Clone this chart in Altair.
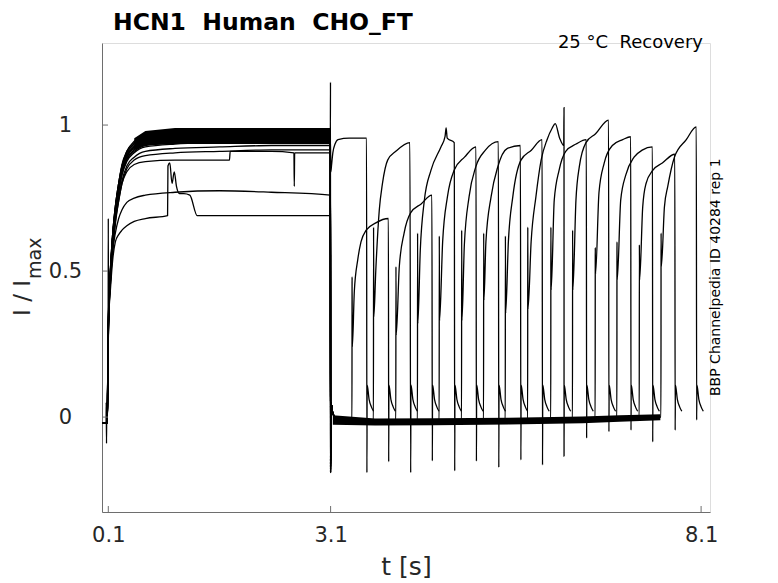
import altair as alt
import pandas as pd

W, H = 608, 469

# ---------------- axes ----------------
tick_x = [0.1, 3.1, 8.1]
tick_y = [0, 0.5, 1]
x_domain = [0.015, 8.22]
y_domain = [-0.325, 1.281]

# ---------------- prepulse (0.1 s .. 3.1 s) ----------------
pre_t = [0.015, 0.086, 0.092, 0.1, 0.11, 0.127, 0.16, 0.195, 0.24, 0.285,
         0.35, 0.45, 0.6, 1.0, 1.6, 2.3, 3.097]
pre_v = {
    0:  [-0.02, -0.02, 0.12, 0.30, 0.40, 0.48, 0.61, 0.70, 0.78, 0.84, 0.885, 0.915, 0.935, 0.945, 0.950, 0.955, 0.955],
    2:  [-0.02, -0.02, 0.12, 0.29, 0.39, 0.47, 0.60, 0.69, 0.77, 0.83, 0.880, 0.910, 0.930, 0.940, 0.945, 0.950, 0.950],
    3:  [-0.02, -0.02, 0.10, 0.27, 0.38, 0.46, 0.57, 0.63, 0.68, 0.71, 0.735, 0.750, 0.760, 0.770, 0.775, 0.770, 0.760],
    4:  [-0.02, -0.02, 0.13, 0.31, 0.41, 0.49, 0.62, 0.71, 0.79, 0.85, 0.895, 0.925, 0.945, 0.955, 0.960, 0.965, 0.965],
    5:  [-0.02, -0.02, 0.11, 0.28, 0.38, 0.46, 0.59, 0.68, 0.75, 0.81, 0.860, 0.890, 0.910, 0.920, 0.925, 0.930, 0.930],
    6:  [-0.02, -0.02, 0.12, 0.30, 0.40, 0.48, 0.61, 0.70, 0.78, 0.84, 0.890, 0.920, 0.940, 0.950, 0.955, 0.958, 0.960],
    7:  [-0.02, -0.02, 0.12, 0.29, 0.39, 0.47, 0.60, 0.69, 0.77, 0.83, 0.875, 0.905, 0.925, 0.935, 0.940, 0.945, 0.945],
    8:  [-0.02, -0.02, 0.13, 0.31, 0.41, 0.49, 0.62, 0.71, 0.79, 0.85, 0.895, 0.925, 0.945, 0.955, 0.958, 0.960, 0.962],
    9:  [-0.02, -0.02, 0.14, 0.32, 0.42, 0.50, 0.63, 0.72, 0.80, 0.86, 0.905, 0.935, 0.955, 0.965, 0.970, 0.975, 0.975],
    10: [-0.02, -0.02, 0.13, 0.30, 0.40, 0.48, 0.62, 0.71, 0.79, 0.85, 0.895, 0.925, 0.945, 0.952, 0.958, 0.962, 0.960],
    11: [-0.02, -0.02, 0.14, 0.32, 0.42, 0.50, 0.63, 0.72, 0.80, 0.86, 0.910, 0.940, 0.960, 0.970, 0.975, 0.980, 0.980],
    12: [-0.02, -0.02, 0.13, 0.31, 0.41, 0.49, 0.62, 0.71, 0.79, 0.85, 0.900, 0.930, 0.950, 0.962, 0.966, 0.970, 0.970],
    13: [-0.02, -0.02, 0.11, 0.27, 0.37, 0.45, 0.58, 0.67, 0.74, 0.80, 0.850, 0.880, 0.895, 0.905, 0.910, 0.915, 0.915],
}
# traces with their own prepulse time points
pre_t_1 = [0.015, 0.086, 0.092, 0.1, 0.11, 0.127, 0.16, 0.195, 0.24, 0.285, 0.35, 0.45, 0.6,
           0.9, 0.905, 0.93, 0.96, 0.99, 1.02, 1.06, 1.12, 1.2, 1.3, 2.0, 3.097]
pre_v_1 = [-0.02, -0.02, 0.10, 0.26, 0.36, 0.43, 0.54, 0.60, 0.625, 0.64, 0.655, 0.67, 0.68,
           0.69, 0.86, 0.87, 0.80, 0.84, 0.79, 0.765, 0.765, 0.76, 0.69, 0.69, 0.69]
pre_t_14 = [0.015, 0.086, 0.092, 0.1, 0.11, 0.127, 0.16, 0.195, 0.24, 0.285, 0.35, 0.45, 0.6,
            1.0, 1.735, 1.745, 2.3, 2.605, 2.61, 2.615, 3.097]
pre_v_14 = [-0.02, -0.02, 0.11, 0.27, 0.37, 0.45, 0.57, 0.66, 0.74, 0.80, 0.84, 0.865, 0.875,
            0.88, 0.88, 0.91, 0.91, 0.905, 0.79, 0.905, 0.905]
pre_t_15 = [0.015, 0.07, 0.072, 0.076, 0.079, 0.083, 0.086, 0.092, 0.098, 0.1, 0.102, 0.11,
            0.127, 0.16, 0.195, 0.24, 0.285, 0.35, 0.45, 0.6, 1.0, 1.6, 2.3, 3.097]
pre_v_15 = [-0.02, -0.02, 0.05, -0.09, 0.03, -0.02, -0.02, 0.14, 0.30, 0.68, 0.33, 0.42,
            0.50, 0.63, 0.72, 0.80, 0.865, 0.91, 0.945, 0.965, 0.975, 0.98, 0.985, 0.985]

# ---------------- deactivation after 3.1 s ----------------
down_31 = [None, -0.17, -0.15, -0.18, -0.16, -0.19, -0.14, -0.17, -0.15, -0.18, -0.16,
           -0.19, -0.15, -0.17, -0.16, -0.19]
spike_31 = 1.147
step_dt = [0.003, 0.03, 0.1]
step_v = [0.05, 0.012, -0.01]
base_t = [3.3, 3.7, 4.5, 5.5, 6.5, 7.0, 7.5]
base_v = [-0.016, -0.017, -0.016, -0.013, -0.009, -0.004, 0.0]

# noise envelopes
top_env_t = [0.45, 0.6, 1.0, 2.0, 3.095]
top_env_lo = [0.915, 0.93, 0.935, 0.935, 0.935]
top_env_hi = [0.955, 0.98, 0.99, 0.99, 0.99]
base_env_t = [3.13, 3.7, 4.5, 5.5, 6.5, 7.0, 7.55]
base_env_lo = [-0.026, -0.029, -0.028, -0.025, -0.021, -0.016, -0.011]
base_env_hi = [0.006, -0.005, -0.004, -0.002, 0.002, 0.006, 0.010]

# ---------------- test pulses ----------------
starts = [3.10, 3.39, 3.68, 3.982, 4.274, 4.567, 4.869, 5.166, 5.459, 5.761,
          6.073, 6.366, 6.672, 6.965, 7.267, 7.56]
ends = [3.59, 3.884, 4.181, 4.473, 4.775, 5.068, 5.37, 5.668, 5.96, 6.25,
        6.555, 6.856, 7.154, 7.447, 7.75, 8.04]
spike_up = [None, 0.48, 0.65, 0.515, 0.63, 0.62, 0.64, 0.63, 0.62, 0.65,
            0.65, 0.64, 0.58, 0.60, 0.59, 0.63]
rise_dt = [
    [0.003, 0.012, 0.03, 0.06, 0.1, 0.25, 0.485],
    [0.003, 0.03, 0.077, 0.12, 0.19, 0.32, 0.49],
    [0.003, 0.03, 0.077, 0.12, 0.19, 0.3, 0.49],
    [0.003, 0.045, 0.11, 0.2, 0.34, 0.485],
    [0.003, 0.036, 0.09, 0.18, 0.315, 0.37, 0.385, 0.4, 0.495],
    [0.003, 0.045, 0.11, 0.2, 0.34, 0.495],
    [0.003, 0.036, 0.1, 0.19, 0.32, 0.495],
    [0.003, 0.03, 0.1, 0.19, 0.32, 0.495],
    [0.003, 0.04, 0.1, 0.21, 0.35, 0.495],
    [0.003, 0.045, 0.11, 0.18, 0.26, 0.33, 0.37, 0.43, 0.485],
    [0.003, 0.045, 0.11, 0.2, 0.34, 0.478],
    [0.003, 0.045, 0.09, 0.18, 0.31, 0.485],
    [0.003, 0.05, 0.12, 0.23, 0.37, 0.478],
    [0.003, 0.05, 0.12, 0.23, 0.34, 0.478],
    [0.003, 0.045, 0.09, 0.18, 0.31, 0.478],
    [0.003, 0.045, 0.09, 0.18, 0.34, 0.475],
]
rise_v = [
    [0.84, 0.86, 0.905, 0.935, 0.95, 0.955, 0.955],
    [0.24, 0.43, 0.54, 0.60, 0.64, 0.665, 0.68],
    [0.343, 0.503, 0.709, 0.80, 0.88, 0.91, 0.94],
    [0.28, 0.515, 0.63, 0.70, 0.73, 0.76],
    [0.32, 0.57, 0.74, 0.845, 0.925, 0.96, 0.99, 0.955, 0.94],
    [0.33, 0.60, 0.755, 0.845, 0.89, 0.925],
    [0.33, 0.59, 0.755, 0.857, 0.914, 0.943],
    [0.40, 0.60, 0.755, 0.857, 0.92, 0.93],
    [0.355, 0.60, 0.755, 0.88, 0.914, 0.95],
    [0.37, 0.60, 0.755, 0.88, 0.95, 0.99, 1.005, 0.955, 0.93],
    [0.435, 0.743, 0.845, 0.91, 0.935, 0.95],
    [0.435, 0.743, 0.857, 0.94, 0.97, 1.017],
    [0.49, 0.77, 0.87, 0.93, 0.95, 0.96],
    [0.47, 0.743, 0.83, 0.89, 0.914, 0.925],
    [0.47, 0.72, 0.80, 0.845, 0.87, 0.90],
    [0.515, 0.72, 0.79, 0.89, 0.95, 0.994],
]
end_down = [-0.19, -0.153, -0.19, -0.15, -0.184, -0.151, -0.172, -0.147, -0.164, -0.134,
            -0.072, -0.05, -0.045, -0.085, -0.045, -0.01]
end_up_9 = 1.06
tail_dt = [0.003, 0.03, 0.06, 0.09]
tail_v = [0.11, 0.06, 0.035, 0.02]

# ---------------- assemble traces ----------------
rows = []


def add(k, ts, vs):
    for t, v in zip(ts, vs):
        rows.append({"trace": k, "i": len(rows), "t": t, "v": v})


for k in range(16):
    if k == 1:
        add(k, pre_t_1, pre_v_1)
    elif k == 14:
        add(k, pre_t_14, pre_v_14)
    elif k == 15:
        add(k, pre_t_15, pre_v_15)
    else:
        add(k, pre_t, pre_v[k])
    s, e = starts[k], ends[k]
    if k == 0:
        add(k, [s + d for d in rise_dt[k]], rise_v[k])
    else:
        if k == 15:
            add(k, [3.0985], [spike_31])
        add(k, [3.1], [down_31[k]])
        add(k, [3.1 + d for d in step_dt], step_v)
        bt = [t for t in base_t if t < s - 0.01]
        bv = base_v[:len(bt)]
        add(k, bt, bv)
        add(k, [s - 0.002, s], [bv[-1], spike_up[k]])
        add(k, [s + d for d in rise_dt[k]], rise_v[k])
    if k == 9:
        add(k, [e, e + 0.0005], [end_up_9, end_down[k]])
    else:
        add(k, [e], [end_down[k]])
    add(k, [e + d for d in tail_dt], tail_v)

traces = pd.DataFrame(rows)
env = pd.concat([
    pd.DataFrame({"g": "top", "t": top_env_t, "lo": top_env_lo, "hi": top_env_hi}),
    pd.DataFrame({"g": "base", "t": base_env_t, "lo": base_env_lo, "hi": base_env_hi}),
])

xs = alt.Scale(domain=x_domain, nice=False, zero=False)
ys = alt.Scale(domain=y_domain, nice=False, zero=False)
FONT = "DejaVu Sans"
xaxis = alt.Axis(values=tick_x, labelExpr="toString(datum.value)", grid=False,
                 ticks=False, tickSize=0,
                 labelPadding=12, labelFontSize=21, labelFont=FONT, labelColor="#262626",
                 domainColor="#6e6e6e", titleFontSize=25, titleFont=FONT,
                 titleFontWeight="normal", titleColor="#262626",
                 titleBaseline="alphabetic", titleY=62)
yaxis = alt.Axis(values=tick_y, labelExpr="toString(datum.value)", grid=False,
                 ticks=False, tickSize=0,
                 labelPadding=37, labelAlign="center", labelBaseline="middle",
                 labelFontSize=21, labelFont=FONT, labelColor="#262626",
                 domainColor="#6e6e6e")


def X(f):
    return alt.X(f, type="quantitative", scale=xs, axis=xaxis, title="t [s]")


def Y(f):
    return alt.Y(f, type="quantitative", scale=ys, axis=yaxis, title=None)


bands = alt.Chart(env).mark_area(color="black", opacity=1).encode(
    x=X("t"), y=Y("lo"), y2="hi", detail="g:N")

lines = alt.Chart(traces).mark_line(color="black", strokeWidth=1.3,
                                    interpolate="monotone").encode(
    x=X("t"), y=Y("v"), detail="trace:N", order=alt.Order("i:Q"))

xt = alt.Chart(pd.DataFrame({"t": tick_x})).mark_rule(color="#6e6e6e").encode(
    x=X("t"), y=alt.value(H), y2=alt.value(H - 6))
yt = alt.Chart(pd.DataFrame({"v": tick_y})).mark_rule(color="#6e6e6e").encode(
    y=Y("v"), x=alt.value(0), x2=alt.value(6))


def label(txt, x, y, size, **kw):
    return alt.Chart(pd.DataFrame({"s": [txt]})).mark_text(
        font=FONT, fontSize=size, **kw).encode(
        text="s:N", x=alt.value(x), y=alt.value(y))


NB = "\u00a0"
title = label("HCN1" + NB + " Human" + NB + " CHO_FT", 11, -13.5, 23.5, fontWeight="bold",
              align="left", baseline="alphabetic", color="black")
cond = label("25 °C" + NB + " Recovery", 601, 5, 18, align="right",
             baseline="alphabetic", color="black")
src = label("BBP Channelpedia ID 40284 rep 1", 617.5, 353, 14, angle=270,
            align="left", baseline="alphabetic", color="black")
ylab1 = label("I / I", -72.5, 237, 23, angle=270, align="right",
              baseline="alphabetic", color="#262626")
ylab2 = label("max", -61, 236, 19, angle=270, align="left",
              baseline="alphabetic", color="#262626")

chart = alt.layer(bands, lines, xt, yt, title, cond, src, ylab1, ylab2).properties(
    width=W, height=H,
    autosize=alt.AutoSizeParams(type="none"),
    padding={"left": 94, "top": 35, "right": 55, "bottom": 70},
).configure_view(strokeWidth=0).configure(background="white")

chart.save("out.html", embed_options={"renderer": "svg", "actions": False})
